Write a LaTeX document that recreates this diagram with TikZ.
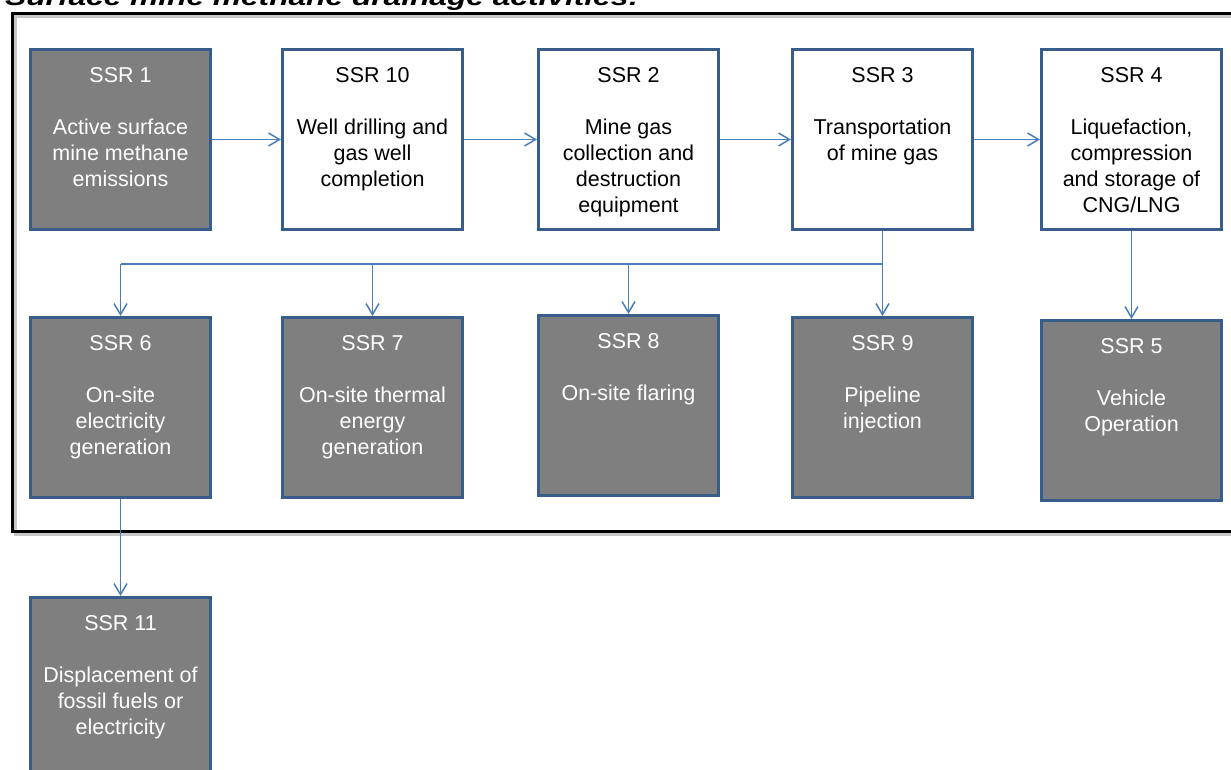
\documentclass[tikz,border=0pt]{standalone}
\usepackage{fontspec}
\setmainfont{Liberation Sans}
\usetikzlibrary{arrows.meta, positioning}
\definecolor{boxblue}{RGB}{56,93,138}
\definecolor{boxgray}{RGB}{127,127,127}
\definecolor{flowblue}{RGB}{74,126,187}

\begin{document}
\begin{tikzpicture}[x=1pt, y=-1pt,
  ssrbox/.style={rectangle, draw=boxblue, line width=3pt, minimum width=180pt, minimum height=180pt, inner sep=0pt,
    font=\fontsize{21.5}{26}\selectfont,
    execute at begin node={\begin{minipage}[t][180pt][t]{176pt}\centering\vspace*{18pt}},
    execute at end node={\end{minipage}}},
  source/.style={ssrbox, fill=boxgray, text=white},
  plain/.style={ssrbox, fill=white, text=black},
  flow/.style={draw=flowblue, line width=1.5pt, -{Straight Barb[length=11pt,width=13pt]}},
  flowline/.style={draw=flowblue, line width=1.5pt}]
\useasboundingbox (0,0) rectangle (1231,769);
\clip (0,0) rectangle (1231,769);

% title and frame
\node[anchor=base west, inner sep=0pt, font=\fontsize{24}{28}\selectfont\bfseries\itshape] (title) at (5,5) {\scalebox{1.32}[1]{Surface mine methane drainage activities:}};
\draw[gray!45, line width=3pt] (15,16) rectangle (1250,534);
\draw[black, line width=3pt] (12,13) rectangle (1250,531);

% top row
\node[source, anchor=north west] (ssr1) at (29,48) {SSR 1\\[26pt]Active surface\\mine methane\\emissions};
\node[plain, right=69pt of ssr1] (ssr10) {SSR 10\\[26pt]Well drilling and\\gas well\\completion};
\node[plain, right=73pt of ssr10] (ssr2) {SSR 2\\[26pt]Mine gas\\collection and\\destruction\\equipment};
\node[plain, right=71pt of ssr2] (ssr3) {SSR 3\\[26pt]Transportation\\of mine gas};
\node[plain, right=66pt of ssr3] (ssr4) {SSR 4\\[26pt]Liquefaction,\\compression\\and storage of\\CNG/LNG};

% bottom row
\node[source, below=85pt of ssr1] (ssr6) {SSR 6\\[26pt]On-site\\electricity\\generation};
\node[source, below=85pt of ssr10] (ssr7) {SSR 7\\[26pt]On-site thermal\\energy\\generation};
\node[source, below=83pt of ssr2] (ssr8) {SSR 8\\[26pt]On-site flaring};
\node[source, below=85pt of ssr3] (ssr9) {SSR 9\\[26pt]Pipeline\\injection};
\node[source, below=88pt of ssr4] (ssr5) {SSR 5\\[26pt]Vehicle\\Operation};
\node[source, below=97pt of ssr6] (ssr11) {SSR 11\\[26pt]Displacement of\\fossil fuels or\\electricity};

% connectors
\draw[flow] (ssr1) -- (ssr10);
\draw[flow] (ssr10) -- (ssr2);
\draw[flow] (ssr2) -- (ssr3);
\draw[flow] (ssr3) -- (ssr4);
\draw[flow] (ssr4) -- (ssr5);
\draw[flow] (ssr3) -- (ssr9);
\coordinate (bus) at (0,264);
\draw[flowline] (ssr3.south |- bus) -- (ssr6.north |- bus);
\draw[flow] (ssr6.north |- bus) -- (ssr6.north);
\draw[flow] (ssr7.north |- bus) -- (ssr7.north);
\draw[flow] (ssr8.north |- bus) -- (ssr8.north);
\draw[flow] (ssr6) -- (ssr11);
\end{tikzpicture}
\end{document}
